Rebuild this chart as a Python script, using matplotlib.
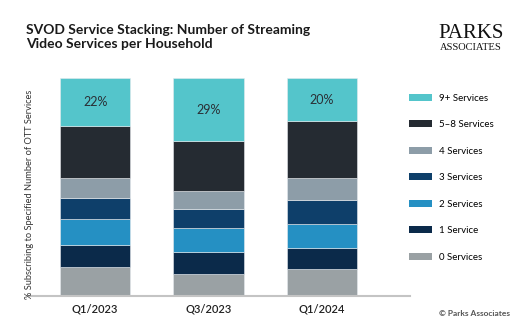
import matplotlib
matplotlib.use("Agg")
import matplotlib.pyplot as plt
from matplotlib.patches import Patch

plt.rcParams['font.family'] = ['Lato', 'DejaVu Sans']

quarters = ['Q1/2023', 'Q3/2023', 'Q1/2024']
series = ['0 Services', '1 Service', '2 Services', '3 Services',
          '4 Services', '5-8 Services', '9+ Services']
legend_names = ['0 Services', '1 Service', '2 Services', '3 Services',
                '4 Services', '5\u20138 Services', '9+ Services']
s0 = [13, 10, 12]
s1 = [10, 10, 10]
s2 = [12, 11, 11]
s3 = [10, 9, 11]
s4 = [9, 8, 10]
s5_8 = [24, 23, 26]
s9 = [22, 29, 20]
colors = ['#9aa1a4', '#0b2a4a', '#2590c3', '#0e3f6a', '#8d9da8', '#252b32', '#54c5cb']

values = [s0, s1, s2, s3, s4, s5_8, s9]

fig = plt.figure(figsize=(5.26, 3.28), dpi=100)
ax = fig.add_axes([27 / 526, 32.5 / 328, 383 / 526, 217.5 / 328])

x = list(range(len(quarters)))
bottom = [0, 0, 0]
for vals, col in zip(values, colors):
    ax.bar(x, vals, width=0.622, bottom=bottom, color=col,
           edgecolor='#e6eaee', linewidth=0.4)
    bottom = [b + v for b, v in zip(bottom, vals)]

# labels only on the top segment
top_base = [sum(v[i] for v in values[:-1]) for i in x]
for i in x:
    ax.text(i, top_base[i] + s9[i] / 2, f"{s9[i]}%", ha='center', va='center',
            fontsize=9, color='#2a2f35')

ax.set_xlim(-0.601, 2.776)
ax.set_ylim(0, 100)
ax.set_xticks(x)
ax.set_xticklabels(quarters, fontsize=8, color='#222222', fontweight='semibold')
ax.tick_params(axis='x', length=0, pad=6)
ax.set_yticks([])
for s in ['top', 'right', 'left']:
    ax.spines[s].set_visible(False)
ax.spines['bottom'].set_color('#c4c4c4')
ax.spines['bottom'].set_linewidth(1.5)

fig.text(30 / 526, 1 - 194 / 328, '% Subscribing to Specified Number of OTT Services',
         rotation=90, ha='center', va='center', fontsize=6.7, color='#333333')

# legend
handles = [Patch(facecolor=c, edgecolor='none') for c in colors[::-1]]
fig.legend(handles, legend_names[::-1], loc='upper left',
           bbox_to_anchor=(400 / 526, 1 - 85 / 328), frameon=False,
           fontsize=7, handlelength=2.4, handleheight=0.7,
           labelspacing=1.8, handletextpad=0.7)

fig.text(26 / 526, 1 - 37 / 328,
         'SVOD Service Stacking: Number of Streaming\nVideo Services per Household',
         ha='left', va='center', fontsize=10, fontweight='bold', color='#1a1a1a',
         linespacing=1.25)

fig.text(471 / 526, 1 - 33 / 328, 'PARKS', ha='center', va='center',
         fontsize=15, family='Liberation Serif', color='#111111')
fig.text(471 / 526, 1 - 47.5 / 328, 'ASSOCIATES', ha='center', va='center',
         fontsize=7.5, family='Liberation Serif', color='#111111')

fig.text(510 / 526, 1 - 314 / 328, '\u00a9 Parks Associates', ha='right', va='center',
         fontsize=6, fontweight='bold', color='#555555')

fig.savefig('out.png', dpi=100)
